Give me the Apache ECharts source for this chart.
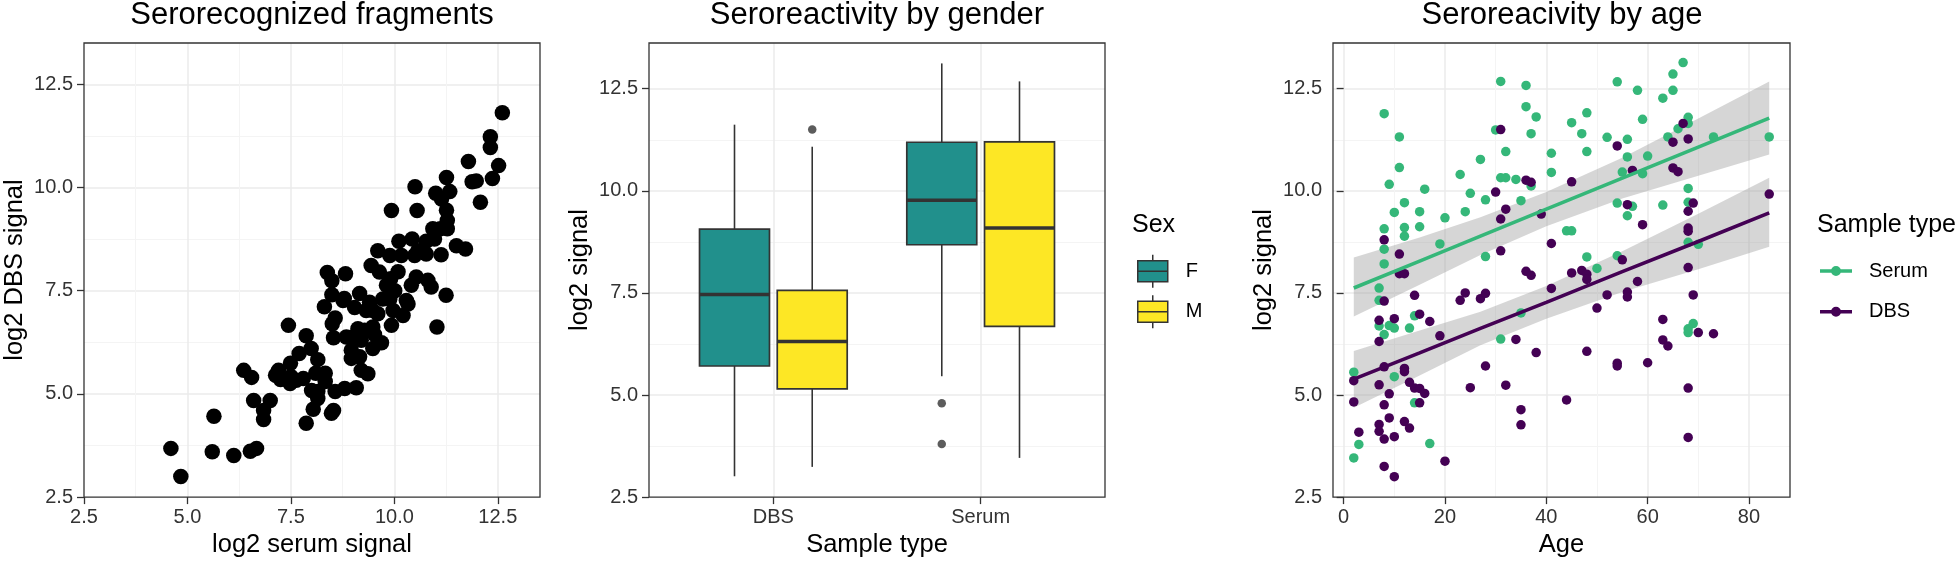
<!DOCTYPE html>
<html>
<head>
<meta charset="utf-8">
<title>Seroreactivity</title>
<script src="https://cdn.jsdelivr.net/npm/echarts@6/dist/echarts.min.js"></script>
<style>
  html, body { margin: 0; padding: 0; background: #fff; }
  #chart { width: 1960px; height: 563px; }
</style>
</head>
<body>
<div id="chart"></div>
<script>
// panel 1: [log2 serum signal, log2 DBS signal] per fragment
const fragmentSignals = [
  [12.61, 11.81], [12.32, 11.23], [12.32, 10.97], [12.52, 10.53], [12.37, 10.22], [11.79, 10.63],
  [11.88, 10.14], [11.98, 10.16], [12.08, 9.64], [11.26, 10.24], [10.50, 10.02], [11.00, 9.86],
  [11.14, 9.72], [11.34, 9.90], [11.26, 9.45], [9.93, 9.44], [10.55, 9.44], [11.28, 9.20],
  [11.28, 9.00], [10.93, 9.00], [11.11, 9.00], [11.50, 8.59], [11.72, 8.51], [10.97, 8.75],
  [10.77, 8.70], [10.43, 8.75], [10.11, 8.70], [9.60, 8.47], [9.44, 8.11], [9.64, 7.95],
  [10.09, 7.96], [8.82, 7.91], [10.57, 8.47], [10.77, 8.39], [11.13, 8.37], [9.89, 8.35],
  [10.17, 8.35], [10.49, 8.35], [10.53, 7.83], [10.81, 7.75], [10.89, 7.59], [9.81, 7.63],
  [10.01, 7.50], [10.41, 7.63], [11.25, 7.39], [9.16, 7.43], [9.91, 7.79],
  [8.38, 7.94], [8.49, 7.74], [8.49, 7.40], [8.79, 7.31], [8.31, 7.11], [8.76, 7.26],
  [9.40, 7.22], [9.72, 7.30], [9.89, 7.30], [10.29, 7.26], [10.33, 7.18], [9.04, 7.09],
  [9.32, 7.02], [9.48, 7.02], [9.60, 6.94], [9.97, 7.02], [10.21, 6.90], [9.93, 6.66],
  [9.12, 6.58], [9.28, 6.54], [9.48, 6.62], [9.52, 6.44], [8.84, 6.38], [9.00, 6.38], [9.20, 6.30],
  [9.69, 6.24], [9.48, 6.10], [8.96, 6.06], [8.96, 5.86], [9.16, 5.90], [9.20, 5.57],
  [9.36, 5.49], [8.80, 5.13], [9.08, 5.15], [11.03, 6.62], [8.57, 6.84], [8.50, 6.70],
  [8.53, 6.36], [7.44, 6.66],
  [6.36, 5.57], [6.55, 5.40], [6.60, 4.84], [7.00, 4.84], [6.84, 4.60], [6.84, 4.38],
  [5.64, 4.46], [4.60, 3.68], [5.60, 3.60], [6.12, 3.51], [6.52, 3.61], [6.67, 3.68],
  [4.84, 3.00], [7.13, 5.45], [7.20, 5.57], [7.25, 5.35], [7.49, 5.74], [7.70, 5.98],
  [7.87, 6.41], [7.99, 6.10], [8.15, 5.83], [7.50, 5.42], [7.63, 5.33], [7.80, 5.37],
  [7.48, 5.25], [8.10, 5.50], [8.33, 5.50], [8.33, 5.30], [8.00, 5.08], [8.15, 5.06],
  [8.15, 4.89], [8.04, 4.63], [7.87, 4.29], [8.53, 4.60], [8.48, 4.53], [8.57, 5.06]
];

// panel 2: box statistics [lower whisker, Q1, median, Q3, upper whisker] per sample type
const sampleTypes = ['DBS', 'Serum'];
const boxStatsF = [[3.01, 5.71, 7.46, 9.06, 11.62], [5.46, 8.68, 9.77, 11.19, 13.12]];
const boxStatsM = [[3.24, 5.15, 6.31, 7.56, 11.08], [3.46, 6.68, 9.09, 11.20, 12.68]];
const outliersF = [['Serum', 4.80], ['Serum', 3.80]];
const outliersM = [['DBS', 11.50]];

// panel 3: [age, log2 signal]
const ageSerum = [
  [2, 5.56], [2, 3.46], [3, 3.79], [7, 7.62], [7, 7.32], [7, 6.69], [8, 11.89], [8, 9.07],
  [8, 8.57], [8, 8.21], [8, 6.48], [9, 10.16], [9, 6.70], [10, 9.47], [10, 6.64], [10, 5.45],
  [11, 11.32], [11, 10.57], [12, 9.71], [12, 9.10], [12, 8.89], [13, 6.64], [14, 6.94], [14, 4.81],
  [15, 9.12], [15, 9.49], [16, 10.04], [17, 3.81], [19, 8.70], [20, 9.34], [23, 10.40], [24, 9.49],
  [25, 9.94], [27, 10.77], [28, 9.78], [28, 8.39], [30, 11.49], [31, 12.68], [31, 10.32], [32, 10.32],
  [32, 10.96], [31, 6.37], [34, 10.28], [35, 9.76], [35, 7.01], [36, 12.58], [36, 12.06], [37, 10.12],
  [37, 11.40], [38, 11.81], [41, 10.92], [41, 10.45], [44, 9.02], [45, 9.02], [45, 11.67], [47, 11.40],
  [48, 11.91], [48, 10.96], [48, 8.38], [50, 8.10], [52, 11.31], [54, 12.67], [54, 9.70], [54, 8.41],
  [55, 10.46], [56, 11.26], [56, 10.83], [56, 9.39], [57, 9.62], [58, 12.46], [59, 11.75], [59, 10.42],
  [60, 10.85], [63, 12.27], [63, 9.65], [64, 11.32], [65, 12.86], [65, 12.46], [66, 11.52], [67, 13.14],
  [68, 11.80], [68, 11.65], [68, 10.06], [68, 9.72], [68, 8.74], [68, 6.62], [68, 6.53], [69, 6.75],
  [70, 8.69], [73, 11.32], [84, 11.32]
];
const ageDbs = [
  [2, 5.35], [2, 4.83], [3, 4.09], [7, 5.25], [7, 4.28], [7, 4.11], [7, 6.31], [7, 6.83], [8, 8.80],
  [8, 7.30], [8, 5.69], [8, 4.76], [8, 3.92], [8, 3.25], [9, 5.03], [9, 4.44], [10, 6.87], [10, 3.98],
  [10, 3.00], [11, 8.45], [11, 7.97], [12, 7.97], [12, 5.65], [12, 5.57], [12, 4.35], [13, 5.31],
  [13, 4.19], [14, 7.44], [14, 5.17], [15, 6.98], [15, 4.81], [15, 5.16], [16, 5.04], [17, 6.80],
  [19, 6.45], [20, 3.38], [23, 7.32], [24, 7.50], [25, 5.18], [27, 7.36], [28, 7.49], [28, 5.71],
  [30, 9.97], [31, 11.50], [31, 9.31], [31, 8.53], [32, 9.55], [32, 5.24], [34, 6.36], [35, 4.64],
  [35, 4.27], [36, 10.26], [37, 10.21], [36, 8.03], [37, 7.93], [38, 6.04], [39, 9.43], [41, 8.71],
  [41, 7.61], [44, 4.88], [45, 10.22], [45, 7.99], [47, 8.05], [48, 7.96], [48, 7.83], [48, 6.07],
  [50, 7.13], [52, 7.45], [54, 11.10], [54, 5.78], [54, 5.71], [55, 8.31], [56, 9.66], [56, 7.52],
  [56, 7.40], [57, 10.50], [58, 7.78], [59, 9.17], [60, 5.79], [63, 6.85], [63, 6.35], [64, 6.20],
  [65, 11.19], [65, 10.56], [66, 10.47], [67, 11.65], [68, 11.27], [68, 9.50], [68, 9.09], [68, 9.01],
  [68, 8.12], [68, 5.17], [68, 3.96], [69, 9.70], [69, 7.45], [70, 6.53], [73, 6.50], [84, 9.92]
];

// linear fits and their confidence bands, read at these ages
const fitAges = [2, 15, 27, 40, 55, 70, 84];
const serumFit = [7.62, 8.28, 8.89, 9.55, 10.31, 11.07, 11.78];
const serumLow = [6.92, 7.70, 8.43, 9.13, 9.81, 10.37, 10.89];
const serumHigh = [8.37, 8.86, 9.35, 9.97, 10.81, 11.77, 12.68];
const dbsFit = [5.39, 6.03, 6.63, 7.27, 8.02, 8.76, 9.46];
const dbsLow = [4.69, 5.48, 6.22, 6.87, 7.52, 8.08, 8.63];
const dbsHigh = [6.08, 6.58, 7.04, 7.67, 8.52, 9.44, 10.32];

// ticks
const signalTicks = [2.5, 5, 7.5, 10, 12.5];
const signalMinor = [3.75, 6.25, 8.75, 11.25];
const ageTicks = [0, 20, 40, 60, 80];
const ageMinor = [10, 30, 50, 70];
const typeTicks = [1, 2];

const font = "'Liberation Sans', Arial, Helvetica, sans-serif";
const colSerum = '#35B779';
const colDbs = '#440154';
const colF = '#21908C';
const colM = '#FDE725';
const dodge = 0.1875;
const boxWidth = 0.3375;

const fmt1 = v => v.toFixed(1);

function majorAxis(grid, min, max, ticks, formatter, name, isY, edgeMin) {
  return {
    gridIndex: grid, type: 'value', min: min, max: max,
    name: name, nameLocation: 'middle', nameGap: isY ? 56 : 33,
    nameTextStyle: { fontSize: 25.5, color: '#000', fontFamily: font },
    axisLine: { show: false },
    axisTick: { show: true, length: 7, customValues: ticks, lineStyle: { color: '#333', width: 1.3 } },
    axisLabel: { customValues: ticks, formatter: formatter, margin: isY ? 11 : 10, fontSize: 20, color: '#333', fontFamily: font },
    splitLine: { show: true, showMinLine: !edgeMin, lineStyle: { color: '#ebebeb', width: 1.5 } }
  };
}
function minorAxis(grid, min, max, ticks) {
  return {
    gridIndex: grid, type: 'value', min: min, max: max,
    axisLine: { show: false },
    axisTick: { show: false, customValues: ticks },
    axisLabel: { show: false },
    splitLine: { show: true, lineStyle: { color: '#f4f4f4', width: 1 } }
  };
}

// boxplot drawn with the cartesian scales
function boxRender(offset, color) {
  return function (params, api) {
    const x = api.value(0) + offset;
    const low = api.coord([x, api.value(1)]);
    const q1 = api.coord([x, api.value(2)]);
    const med = api.coord([x, api.value(3)]);
    const q3 = api.coord([x, api.value(4)]);
    const high = api.coord([x, api.value(5)]);
    const left = api.coord([x - boxWidth / 2, api.value(3)])[0];
    const right = api.coord([x + boxWidth / 2, api.value(3)])[0];
    return {
      type: 'group',
      children: [
        { type: 'line', shape: { x1: low[0], y1: low[1], x2: q1[0], y2: q1[1] }, style: { stroke: '#333', lineWidth: 1.6 } },
        { type: 'line', shape: { x1: q3[0], y1: q3[1], x2: high[0], y2: high[1] }, style: { stroke: '#333', lineWidth: 1.6 } },
        { type: 'rect', shape: { x: left, y: q3[1], width: right - left, height: q1[1] - q3[1] }, style: { fill: color, stroke: '#333', lineWidth: 1.7 } },
        { type: 'line', shape: { x1: left, y1: med[1], x2: right, y2: med[1] }, style: { stroke: '#333', lineWidth: 3.6 } }
      ]
    };
  };
}

// confidence ribbon as one polygon
function bandRender(ages, low, high) {
  return function (params, api) {
    if (params.dataIndex !== 0) return null;
    const pts = [];
    ages.forEach((a, i) => pts.push(api.coord([a, low[i]])));
    for (let i = ages.length - 1; i >= 0; i--) pts.push(api.coord([ages[i], high[i]]));
    return { type: 'polygon', shape: { points: pts }, style: { fill: 'rgba(153,153,153,0.4)' } };
  };
}

const boxIcon = 'path://M15,0L15,6M0,6L30,6L30,27L0,27ZM0,16.5L30,16.5M15,27L15,33';
const lineDotIcon = 'path://M0,3.3L32,3.3L32,6.7L0,6.7ZM11,5A5,5,0,1,1,21,5A5,5,0,1,1,11,5Z';

const titleStyle = { fontSize: 31, fontWeight: 'normal', color: '#000', fontFamily: font };
const legendTitleStyle = { fontSize: 25, fontWeight: 'normal', color: '#000', fontFamily: font };
const legendText = { fontSize: 20, lineHeight: 20, color: '#000', fontFamily: font };

const gridBase = { top: 43, height: 456, show: true, z: 10, backgroundColor: 'transparent', borderColor: '#333333', borderWidth: 1.3 };

const option = {
  animation: false,
  backgroundColor: '#fff',
  textStyle: { fontFamily: font },
  title: [
    { text: 'Serorecognized fragments', left: 312, top: 0, textAlign: 'center', padding: 0, textStyle: titleStyle },
    { text: 'Seroreactivity by gender', left: 877, top: 0, textAlign: 'center', padding: 0, textStyle: titleStyle },
    { text: 'Seroreacivity by age', left: 1562, top: 0, textAlign: 'center', padding: 0, textStyle: titleStyle },
    { text: 'Sex', left: 1132, top: 213, padding: 0, textStyle: legendTitleStyle },
    { text: 'Sample type', left: 1817, top: 213, padding: 0, textStyle: legendTitleStyle }
  ],
  legend: [
    { data: ['F'], left: 1137, top: 254, padding: 0, itemWidth: 30, itemHeight: 33, icon: boxIcon, selectedMode: false,
      itemStyle: { borderColor: '#333', borderWidth: 1.5 }, textStyle: Object.assign({ padding: [0, 0, 0, 13] }, legendText) },
    { data: ['M'], left: 1137, top: 294.5, padding: 0, itemWidth: 30, itemHeight: 33, icon: boxIcon, selectedMode: false,
      itemStyle: { borderColor: '#333', borderWidth: 1.5 }, textStyle: Object.assign({ padding: [0, 0, 0, 13] }, legendText) },
    { data: ['Serum'], left: 1820, top: 261, padding: 0, itemWidth: 32, itemHeight: 10, icon: lineDotIcon, selectedMode: false,
      itemStyle: { borderWidth: 0 }, textStyle: Object.assign({ padding: [0, 0, 0, 12] }, legendText) },
    { data: ['DBS'], left: 1820, top: 301.7, padding: 0, itemWidth: 32, itemHeight: 10, icon: lineDotIcon, selectedMode: false,
      itemStyle: { borderWidth: 0 }, textStyle: Object.assign({ padding: [0, 0, 0, 12] }, legendText) }
  ],
  grid: [
    Object.assign({ left: 84, width: 456 }, gridBase),
    Object.assign({ left: 649, width: 456 }, gridBase),
    Object.assign({ left: 1333, width: 457 }, gridBase)
  ],
  xAxis: [
    majorAxis(0, 2.5, 13.52, signalTicks, fmt1, 'log2 serum signal', false, true),
    minorAxis(0, 2.5, 13.52, signalMinor),
    majorAxis(1, 0.4, 2.6, typeTicks, v => sampleTypes[v - 1], 'Sample type', false, false),
    majorAxis(2, -2.1, 88.1, ageTicks, v => String(v), 'Age', false, false),
    minorAxis(2, -2.1, 88.1, ageMinor)
  ],
  yAxis: [
    majorAxis(0, 2.5, 13.5, signalTicks, fmt1, 'log2 DBS signal', true, true),
    minorAxis(0, 2.5, 13.5, signalMinor),
    majorAxis(1, 2.5, 13.62, signalTicks, fmt1, 'log2 signal', true, true),
    minorAxis(1, 2.5, 13.62, signalMinor),
    majorAxis(2, 2.5, 13.62, signalTicks, fmt1, 'log2 signal', true, true),
    minorAxis(2, 2.5, 13.62, signalMinor)
  ],
  series: [
    { name: 'fragments', type: 'scatter', xAxisIndex: 0, yAxisIndex: 0, data: fragmentSignals,
      symbolSize: 15.5, itemStyle: { color: '#000', opacity: 1 } },

    { name: 'F', type: 'custom', xAxisIndex: 2, yAxisIndex: 2, renderItem: boxRender(-dodge, colF),
      itemStyle: { color: colF, borderColor: '#333' }, encode: { x: 0, y: [1, 2, 3, 4, 5] },
      data: boxStatsF.map((s, i) => [i + 1].concat(s)) },
    { name: 'M', type: 'custom', xAxisIndex: 2, yAxisIndex: 2, renderItem: boxRender(dodge, colM),
      itemStyle: { color: colM, borderColor: '#333' }, encode: { x: 0, y: [1, 2, 3, 4, 5] },
      data: boxStatsM.map((s, i) => [i + 1].concat(s)) },
    { name: 'F outliers', type: 'scatter', xAxisIndex: 2, yAxisIndex: 2, symbolSize: 8.5,
      itemStyle: { color: '#333' }, data: outliersF.map(o => [sampleTypes.indexOf(o[0]) + 1 - dodge, o[1]]) },
    { name: 'M outliers', type: 'scatter', xAxisIndex: 2, yAxisIndex: 2, symbolSize: 8.5,
      itemStyle: { color: '#333' }, data: outliersM.map(o => [sampleTypes.indexOf(o[0]) + 1 + dodge, o[1]]) },

    { name: 'Serum', type: 'scatter', xAxisIndex: 3, yAxisIndex: 4, data: ageSerum, symbolSize: 9.5,
      itemStyle: { color: colSerum, opacity: 1 } },
    { name: 'DBS', type: 'scatter', xAxisIndex: 3, yAxisIndex: 4, data: ageDbs, symbolSize: 9.5,
      itemStyle: { color: colDbs, opacity: 1 } },
    { name: 'Serum band', type: 'custom', xAxisIndex: 3, yAxisIndex: 4, clip: true,
      renderItem: bandRender(fitAges, serumLow, serumHigh), encode: { x: 0, y: [1, 2] },
      data: fitAges.map((a, i) => [a, serumLow[i], serumHigh[i]]) },
    { name: 'Serum fit', type: 'line', xAxisIndex: 3, yAxisIndex: 4, showSymbol: false, symbol: 'none',
      lineStyle: { color: colSerum, width: 3.6 }, data: fitAges.map((a, i) => [a, serumFit[i]]) },
    { name: 'DBS band', type: 'custom', xAxisIndex: 3, yAxisIndex: 4, clip: true,
      renderItem: bandRender(fitAges, dbsLow, dbsHigh), encode: { x: 0, y: [1, 2] },
      data: fitAges.map((a, i) => [a, dbsLow[i], dbsHigh[i]]) },
    { name: 'DBS fit', type: 'line', xAxisIndex: 3, yAxisIndex: 4, showSymbol: false, symbol: 'none',
      lineStyle: { color: colDbs, width: 3.6 }, data: fitAges.map((a, i) => [a, dbsFit[i]]) }
  ]
};

const chart = echarts.init(document.getElementById('chart'), null, { renderer: 'canvas' });
chart.setOption(option);
</script>
</body>
</html>
